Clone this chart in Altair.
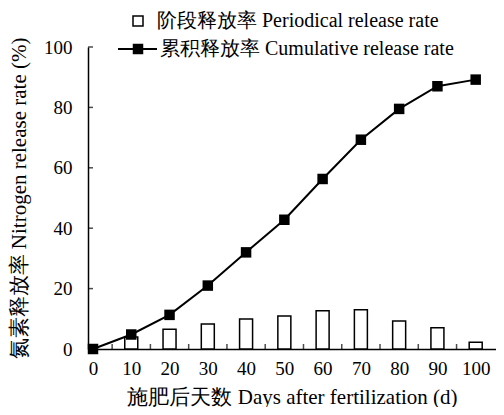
import altair as alt
import pandas as pd

days = [0, 10, 20, 30, 40, 50, 60, 70, 80, 90, 100]
cumulative = [0, 4.8, 11.3, 21.0, 32.0, 42.8, 56.3, 69.3, 79.5, 87.0, 89.2]
bar_days = [10, 20, 30, 40, 50, 60, 70, 80, 90, 100]
periodical = [4.0, 6.5, 8.3, 9.9, 10.9, 12.7, 13.0, 9.3, 7.0, 2.2]
x_ticks = [5, 10, 15, 20, 25, 30, 35, 40, 45, 50, 55, 60, 65, 70, 75, 80, 85, 90, 95, 100]
y_ticks = [0, 20, 40, 60, 80, 100]
x_labels = [0, 10, 20, 30, 40, 50, 60, 70, 80, 90, 100]
legend_labels = ["阶段释放率 Periodical release rate", "累积释放率 Cumulative release rate"]

FONT = "Times New Roman"

cum_df = pd.DataFrame({"day": days, "rate": cumulative})
bar_df = pd.DataFrame({"day": bar_days, "rate": periodical})
xt_df = pd.DataFrame({"t": x_ticks})
yt_df = pd.DataFrame({"t": y_ticks})
one = pd.DataFrame({"k": [0]})

xscale = alt.Scale(domain=[0, 104], nice=False, zero=True)
yscale = alt.Scale(domain=[0, 100], nice=False)

xaxis = alt.Axis(values=x_labels, title="施肥后天数 Days after fertilization (d)",
                 ticks=False, grid=False, labelPadding=10, titlePadding=8,
                 labelFlush=False)
yaxis = alt.Axis(values=y_ticks, title="氮素释放率 Nitrogen release rate (%)",
                 ticks=False, grid=False, labelPadding=16, titlePadding=14)

bars = alt.Chart(bar_df).mark_bar(size=13, fill="white", stroke="black", strokeWidth=1.5).encode(
    x=alt.X("day:Q", scale=xscale, axis=xaxis),
    y=alt.Y("rate:Q", scale=yscale, axis=yaxis),
)

xt = alt.Chart(xt_df).mark_tick(orient="vertical", size=5, thickness=1.5, color="black").encode(
    x=alt.X("t:Q", scale=xscale),
    y=alt.Y("tb:Q", scale=yscale),
    yOffset=alt.value(-2.5),
).transform_calculate(tb="0")
yt = alt.Chart(yt_df).mark_tick(orient="horizontal", size=5, thickness=1.5, color="black").encode(
    y=alt.Y("t:Q", scale=yscale),
    x=alt.value(2.5),
)

line = alt.Chart(cum_df).mark_line(color="black", strokeWidth=2).encode(
    x=alt.X("day:Q", scale=xscale),
    y=alt.Y("rate:Q", scale=yscale),
)
pts = alt.Chart(cum_df).mark_point(shape="square", filled=True, color="black", size=110, opacity=1).encode(
    x=alt.X("day:Q", scale=xscale),
    y=alt.Y("rate:Q", scale=yscale),
)

# legend
leg_box = alt.Chart(one).mark_point(shape="square", filled=False, stroke="black", strokeWidth=1.5, size=100, opacity=1).encode(
    x=alt.value(50), y=alt.value(-26))
leg_t1 = alt.Chart(one).mark_text(align="left", baseline="middle", fontSize=20, font=FONT, color="black").encode(
    x=alt.value(69), y=alt.value(-26), text=alt.value(legend_labels[0]))
leg_line = alt.Chart(one).mark_rule(color="black", strokeWidth=2).encode(
    x=alt.value(30), x2=alt.value(69), y=alt.value(2))
leg_pt = alt.Chart(one).mark_point(shape="square", filled=True, color="black", size=110, opacity=1).encode(
    x=alt.value(50), y=alt.value(2))
leg_t2 = alt.Chart(one).mark_text(align="left", baseline="middle", fontSize=20, font=FONT, color="black").encode(
    x=alt.value(72), y=alt.value(2), text=alt.value(legend_labels[1]))

chart = alt.layer(xt, yt, bars, line, pts, leg_box, leg_t1, leg_line, leg_pt, leg_t2).properties(
    width=488, height=399, padding={"left": 0, "top": 3, "right": 0, "bottom": 0},
    autosize=alt.AutoSizeParams(type="fit", contains="padding"),
).configure_view(stroke=None).configure_axis(
    domainColor="black", domainWidth=1.5, labelColor="black", titleColor="black",
    labelFont=FONT, titleFont=FONT, labelFontSize=19, titleFontSize=21, titleFontWeight="normal"
)

chart.save("out.html", embed_options={"renderer": "svg", "actions": False})
